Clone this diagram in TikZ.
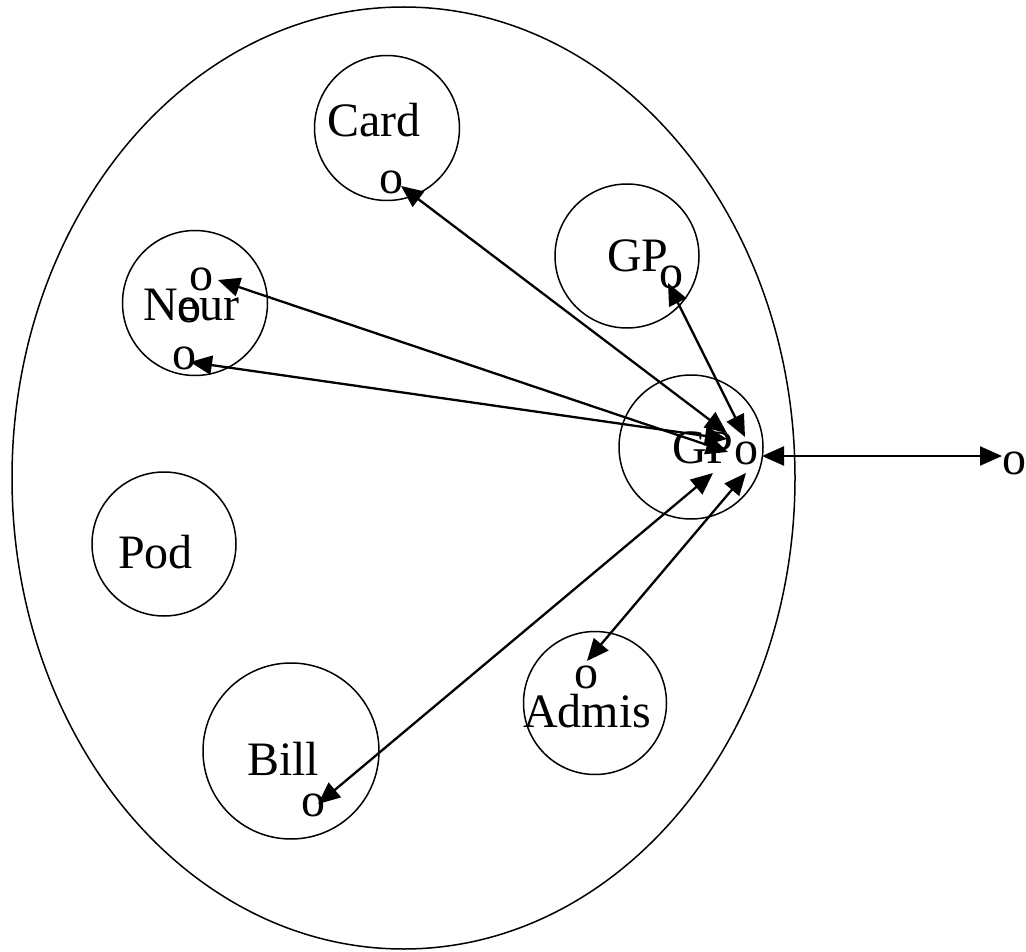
\documentclass[tikz,border=0pt]{standalone}
\usepackage{fontspec}
\setmainfont{Liberation Serif}
\usetikzlibrary{arrows.meta}
\tikzset{
    grupo/.style={circle,draw,line width=1.5pt,inner sep=0pt,minimum size=#1pt},
    rotulo/.style={anchor=base west,inner sep=0pt,font=\fontsize{48}{58}\selectfont},
    punto/.style={inner sep=0pt,font=\fontsize{48}{58}\selectfont},
    enlace/.style={{Triangle[length=22pt,width=19pt]}-{Triangle[length=22pt,width=19pt]},line width=2.3pt},
}
\begin{document}
\begin{tikzpicture}[x=1pt,y=-1pt]
    \useasboundingbox (0,0) rectangle (1026,952);

    % Elipse exterior
    \draw[line width=1.5pt] (403.5,478) ellipse [x radius=391.5, y radius=471];

    % Circulos
    \foreach \name/\x/\y/\d in {card/387/128/145, gpa/627/256/144, neur/195/303/145,
        gpb/691/447/144, pod/164/544/144, bill/291/751/176, admis/595/703/143} {
        \node[grupo=\d] (\name) at (\x,\y) {};
    }

    % Nombres
    \foreach \name/\x/\y/\txt in {tcard/327/137/Card, tgpa/607/272/GP, tneur/143/320/Neur,
        tgpb/672/463/GP, tpod/118/568/Pod, tbill/247/775/Bill, tadmis/523/727/Admis} {
        \node[rotulo] (\name) at (\x,\y) {\txt};
    }

    % Puntos o
    \foreach \name/\x/\y in {ocard/391/182, ogpa/671/277, oneura/201/279, oneurb/189/311,
        oneurc/184/358, ogpb/746/453, obill/313/805, oadmis/586/677, oext/1014/463} {
        \node[punto] (\name) at (\x,\y) {o};
    }

    % Extremos de las flechas
    \coordinate (pcard) at (401,186);
    \coordinate (pgpa) at (668,283);
    \coordinate (pneura) at (218,280);
    \coordinate (pneurb) at (190,362);
    \coordinate (pbill) at (318,804);
    \coordinate (padmis) at (587,661);
    \coordinate (pext) at (1002,456);
    \coordinate (qcard) at (727,433);
    \coordinate (qgpa) at (745,437);
    \coordinate (qneura) at (728,452);
    \coordinate (qneurb) at (727,439);
    \coordinate (qbill) at (713,473);
    \coordinate (qadmis) at (746,473);
    \coordinate (qext) at (762,456);

    % Flechas
    \foreach \a in {card,gpa,neura,neurb,bill,admis,ext} {
        \draw[enlace] (p\a) -- (q\a);
    }
\end{tikzpicture}
\end{document}
